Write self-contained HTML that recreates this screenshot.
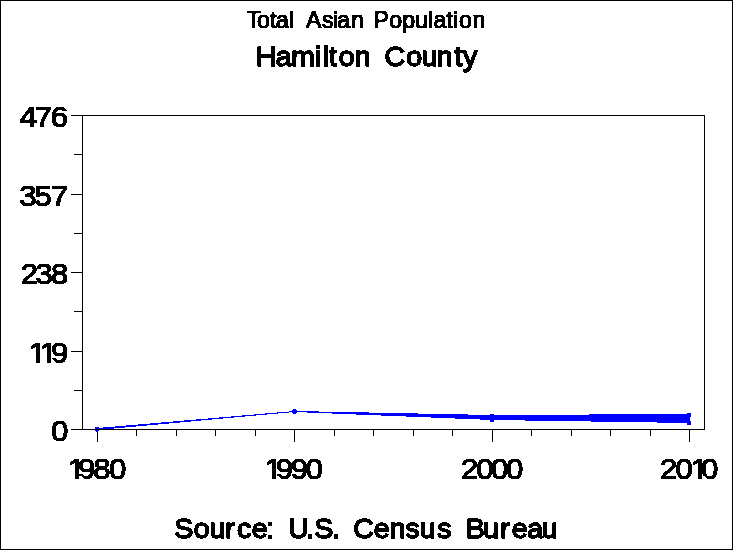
<!DOCTYPE html>
<html lang="en"><head><meta charset="utf-8"><title>Total Asian Population - Hamilton County</title>
<style>html,body{margin:0;padding:0;background:#fff;overflow:hidden}svg{display:block}text{font-family:"Liberation Sans",sans-serif;fill:#000;stroke:#000}</style>
</head><body>
<svg width="733" height="550" viewBox="0 0 733 550">
<defs><filter id="th" x="0" y="0" width="733" height="550" filterUnits="userSpaceOnUse" color-interpolation-filters="sRGB"><feComponentTransfer><feFuncA type="discrete" tableValues="0 1"/></feComponentTransfer></filter>
<mask id="k119" maskUnits="userSpaceOnUse" x="0" y="0" width="733" height="550"><rect width="733" height="550" fill="#fff"/><path fill="#000" d="M29.5 359.95L35.99 359.95L35.99 364.62L29.5 364.62ZM40 359.95L46.08 359.95L46.08 364.62L40 364.62ZM40.5 359.95L46.99 359.95L46.99 364.62L40.5 364.62ZM51 359.95L53.6 359.95L57.08 363.15L57.08 364.62L51 364.62Z"/></mask><mask id="k1980" maskUnits="userSpaceOnUse" x="0" y="0" width="733" height="550"><rect width="733" height="550" fill="#fff"/><path fill="#000" d="M68.8 475.95L75.29 475.95L75.29 480.62L68.8 480.62ZM79.3 475.95L80.9 475.95L85.38 479.15L85.38 480.62L79.3 480.62Z"/></mask><mask id="k1990" maskUnits="userSpaceOnUse" x="0" y="0" width="733" height="550"><rect width="733" height="550" fill="#fff"/><path fill="#000" d="M265.5 475.95L271.99 475.95L271.99 480.62L265.5 480.62ZM276 475.95L278.3 475.95L282.08 479.15L282.08 480.62L276 480.62Z"/></mask><mask id="k2010" maskUnits="userSpaceOnUse" x="0" y="0" width="733" height="550"><rect width="733" height="550" fill="#fff"/><path fill="#000" d="M691.8 475.95L698.29 475.95L698.29 480.62L691.8 480.62ZM702.3 475.95L703.9 475.95L708.38 479.15L708.38 480.62L702.3 480.62Z"/></mask>
</defs>
<g shape-rendering="crispEdges">
<rect x="0.5" y="0.5" width="732" height="549" fill="#fff" stroke="#000" stroke-width="1"/>
<g fill="#000">
<rect x="71" y="115" width="11" height="1"/>
<rect x="71" y="194" width="11" height="1"/>
<rect x="71" y="272" width="11" height="1"/>
<rect x="71" y="351" width="11" height="1"/>
<rect x="71" y="429" width="11" height="1"/>
<rect x="74" y="154" width="8" height="1"/>
<rect x="74" y="233" width="8" height="1"/>
<rect x="74" y="311" width="8" height="1"/>
<rect x="74" y="390" width="8" height="1"/>
<rect x="97" y="430" width="1" height="12"/>
<rect x="294" y="430" width="1" height="12"/>
<rect x="492" y="430" width="1" height="12"/>
<rect x="689" y="430" width="1" height="12"/>
<rect x="136" y="430" width="1" height="6"/>
<rect x="176" y="430" width="1" height="6"/>
<rect x="215" y="430" width="1" height="6"/>
<rect x="255" y="430" width="1" height="6"/>
<rect x="334" y="430" width="1" height="6"/>
<rect x="373" y="430" width="1" height="6"/>
<rect x="413" y="430" width="1" height="6"/>
<rect x="452" y="430" width="1" height="6"/>
<rect x="531" y="430" width="1" height="6"/>
<rect x="571" y="430" width="1" height="6"/>
<rect x="610" y="430" width="1" height="6"/>
<rect x="650" y="430" width="1" height="6"/>
</g>
<g fill="#00f">
<polygon points="97.5,428 294.5,411 294.5,412 97.5,430"/>
<polygon points="294.5,411 492.5,415 689.5,414 689.5,423 492.5,420 294.5,412"/>
<path d="M95 427h4v4h-1v1h-2v-1h-1z"/>
<path d="M293 409h3v1h1v3h-1v1h-3v-1h-1v-3h1z"/>
<rect x="490" y="414" width="4" height="8"/>
<path d="M687 413h4v4h-1v4h1v4h-4z"/>
</g>
<rect x="82.5" y="115.5" width="622" height="314" fill="none" stroke="#000" stroke-width="1"/>
</g>
<g filter="url(#th)">
<text x="257.16 267.8 281.3 287.55 301.01 305.42 318.67 335.38 346.84 351.3 365.77 378.12 388.99 405.46 419.06 432.32 446.17 451.56 465 472 478.01 492.07" y="28" font-size="24" stroke-width="1.2" transform="scale(0.96,1)">Total Asian Population</text>
<text x="255.79 275.79 291.14 314.93 322.77 328.99 338.76 354.68 369.1 384.52 406.21 421.61 436.68 454.14 463.02" y="66" font-size="28.5" stroke-width="1.5">Hamilton County</text>
<text x="174.16 193.81 209.46 225.16 237.06 251.71 266.25 272.3 288.21 306.2 314.31 332.15 338.1 353.32 373.86 389.73 405.61 419.81 437.26 451.4 465.66 483.06 500.16 511.71 527.29 541.66" y="538" font-size="28.5" stroke-width="1.5">Source: U.S. Census Bureau</text>
<text x="18.45 32.59 47.51" y="127" font-size="29" stroke-width="1.2" transform="scale(1.07,1)">476</text>
<text x="18.03 32.19 47.64" y="206" font-size="29" stroke-width="1.2" transform="scale(1.07,1)">357</text>
<text x="19.37 33.12 47.64" y="284" font-size="29" stroke-width="1.2" transform="scale(1.07,1)">238</text>
<g mask="url(#k119)"><text x="26.88 37.16 47.64" y="363" font-size="29" stroke-width="1.2" transform="scale(1.07,1)">119</text></g>
<text x="47.64" y="441" font-size="29" stroke-width="1.2" transform="scale(1.07,1)">0</text>
<g mask="url(#k1980)"><text x="63.61 72.97 87.26 101.84" y="479" font-size="29" stroke-width="1.2" transform="scale(1.07,1)">1980</text></g>
<g mask="url(#k1990)"><text x="247.44 257.69 271.75 285.77" y="479" font-size="29" stroke-width="1.2" transform="scale(1.07,1)">1990</text></g>
<text x="430.77 445.02 458.85 472.92" y="479" font-size="29" stroke-width="1.2" transform="scale(1.07,1)">2000</text>
<g mask="url(#k2010)"><text x="616.89 631.33 645.86 655.16" y="479" font-size="29" stroke-width="1.2" transform="scale(1.07,1)">2010</text></g>
</g>
</svg>
</body></html>
